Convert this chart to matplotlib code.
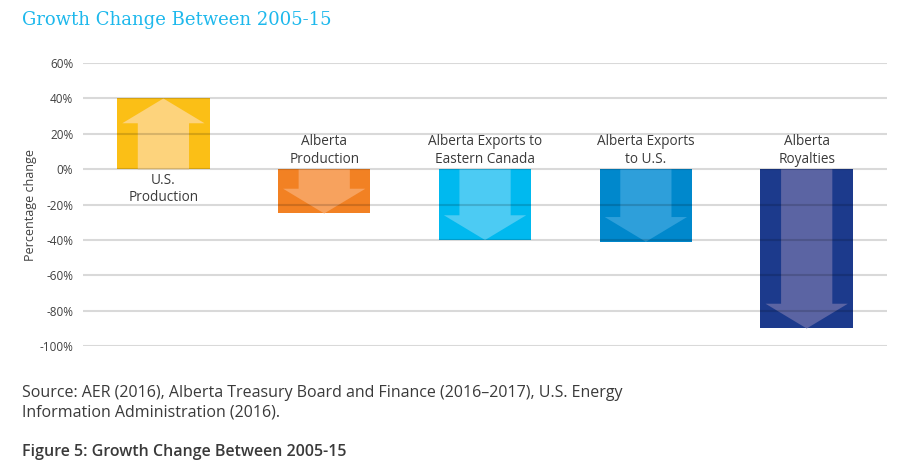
import numpy as np
import matplotlib
matplotlib.use('Agg')
import matplotlib.pyplot as plt
from matplotlib.patches import Polygon

plt.rcParams['font.family'] = ['Open Sans', 'DejaVu Sans']

# data
categories = ['U.S.\nProduction', 'Alberta\nProduction', 'Alberta Exports to\nEastern Canada',
              'Alberta Exports\nto U.S.', 'Alberta\nRoyalties']
values = [40, -25, -40, -41, -90]
bar_colors = ['#FBBF16', '#F28123', '#00B9EF', '#0088CC', '#1C3A8C']
arrow_colors = ['#FDD37C', '#F7A25E', '#4CCBF3', '#2E9FDA', '#5B64A3']
yticks = [60, 40, 20, 0, -20, -40, -60, -80, -100]

fig = plt.figure(figsize=(9.08, 4.71), dpi=100)
ax = fig.add_axes([0.0914, 0.265, 0.8856, 0.601])

x = np.arange(len(values))
width = 0.575
ax.bar(x, values, width=width, color=bar_colors, zorder=2)

# the lighter arrows inside each bar
head_len = 14
for xi, v, c in zip(x, values, arrow_colors):
    s = np.sign(v)
    sh = 0.277 * width
    hh = 0.445 * width
    base = v - s * head_len
    pts = [(xi - sh, 0), (xi - sh, base), (xi - hh, base), (xi, v),
           (xi + hh, base), (xi + sh, base), (xi + sh, 0)]
    ax.add_patch(Polygon(pts, closed=True, color=c, lw=0, zorder=3))

# labels on the opposite side of zero
for xi, v, lab in zip(x, values, categories):
    if v > 0:
        ax.text(xi, -2, lab, ha='center', va='top', fontsize=9.8, color='#3a3a3a', zorder=5)
    else:
        ax.text(xi, 1.5, lab, ha='center', va='bottom', fontsize=9.8, color='#3a3a3a', zorder=5)

for t in yticks:
    ax.axhline(t, color='black', alpha=0.15, lw=1.5, zorder=4)

ax.set_xlim(-0.5, 4.5)
ax.set_ylim(-100, 60)
ax.set_yticks(yticks)
ax.set_yticklabels([f'{t}%' for t in yticks], fontsize=8.5, color='#404040')
ax.set_xticks([])
ax.tick_params(axis='y', length=0, pad=7)
for sp in ax.spines.values():
    sp.set_visible(False)
ax.set_ylabel('Percentage change', fontsize=9, color='#404040', labelpad=2)

fig.text(22 / 908, 1 - 20 / 471, 'Growth Change Between 2005-15', fontsize=13,
         family='DejaVu Serif', color='#1DB8EC', va='center')
fig.text(22 / 908, 1 - 385 / 471,
         'Source: AER (2016), Alberta Treasury Board and Finance (2016\u20132017), U.S. Energy\nInformation Administration (2016).',
         fontsize=11.5, color='#3a3a3a', va='top', linespacing=1.3)
fig.text(22 / 908, 1 - 452 / 471, 'Figure 5: Growth Change Between 2005-15',
         fontsize=11.5, fontweight='semibold', color='#3a3a3a', va='center')

fig.savefig('out.png', dpi=100)
